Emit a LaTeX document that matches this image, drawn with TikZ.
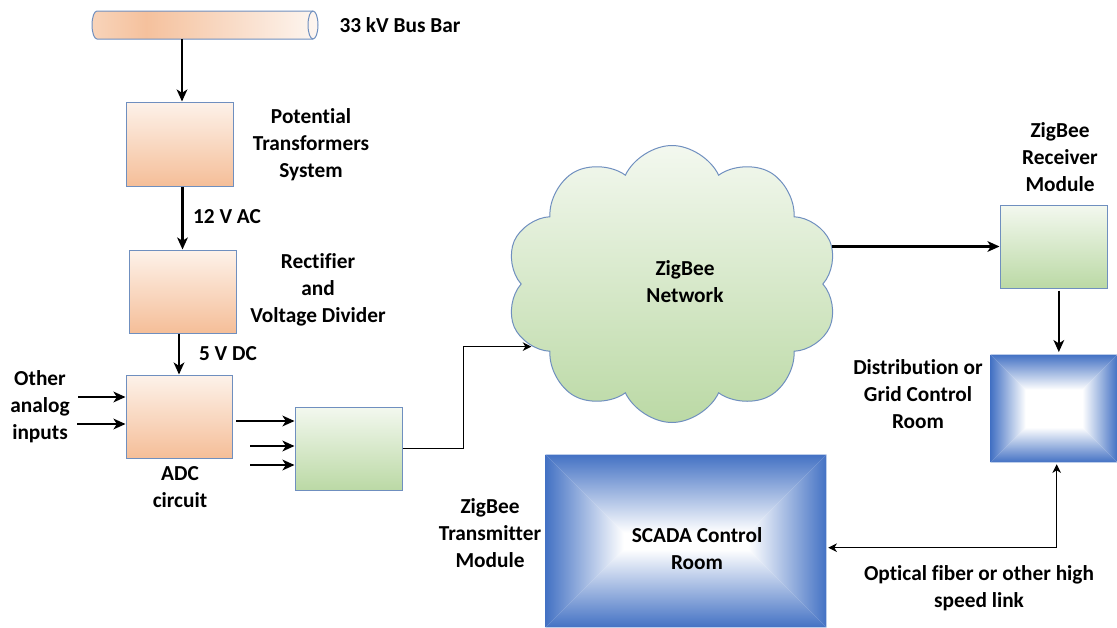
\documentclass[tikz,border=0pt]{standalone}
\usepackage{fontspec}
\setmainfont{Carlito}[Ligatures=NoCommon]
\usetikzlibrary{arrows.meta,calc,shapes.symbols}

\definecolor{edge}{HTML}{6F8FBF}
\definecolor{orgtop}{HTML}{FDF2EA}
\definecolor{orgbot}{HTML}{F5BE98}
\definecolor{grntop}{HTML}{F3F8EF}
\definecolor{grnbot}{HTML}{BBD9A5}
\definecolor{bev}{HTML}{4472C4}
\definecolor{busL}{HTML}{F8D4BA}
\definecolor{busM}{HTML}{F5C19D}
\definecolor{busR}{HTML}{FDF6F1}
\pgfdeclarehorizontalshading{busbar}{100bp}{color(0bp)=(busL); color(25bp)=(busL); color(37bp)=(busM); color(75bp)=(busR); color(100bp)=(busR)}

% blue bevelled room: four shaded trapezoids around a white core
\newcommand\bevelbox[2]{%
  \fill[white] (#1.north west) rectangle (#1.south east);
  \shade[top color=bev, bottom color=white]
    (#1.north west) -- (#1.north east) -- ($(#1.north east)+(-#2,#2)$) -- ($(#1.north west)+(#2,#2)$) -- cycle;
  \shade[top color=white, bottom color=bev]
    (#1.south west) -- (#1.south east) -- ($(#1.south east)+(-#2,-#2)$) -- ($(#1.south west)+(#2,-#2)$) -- cycle;
  \shade[left color=bev, right color=white]
    (#1.north west) -- (#1.south west) -- ($(#1.south west)+(#2,-#2)$) -- ($(#1.north west)+(#2,#2)$) -- cycle;
  \shade[left color=white, right color=bev]
    (#1.north east) -- (#1.south east) -- ($(#1.south east)+(-#2,-#2)$) -- ($(#1.north east)+(-#2,#2)$) -- cycle;
}

\begin{document}
\begin{tikzpicture}[x=0.75pt,y=-0.75pt,
  sz/.style n args={2}{minimum width=#1*0.75pt, minimum height=#2*0.75pt},
  obox/.style={rectangle, draw=edge, line width=0.75pt, top color=orgtop, bottom color=orgbot, inner sep=0pt},
  gbox/.style={rectangle, draw=edge, line width=0.75pt, top color=grntop, bottom color=grnbot, inner sep=0pt},
  room/.style={rectangle, inner sep=0pt},
  lbl/.style={align=center, inner sep=0pt, font=\bfseries\fontsize{16}{20.25}\selectfont},
  fatarrow/.style={line width=1.7pt, -{Stealth[length=9pt,width=8pt,inset=2.5pt]}},
  slimarrow/.style={line width=0.8pt, -{Stealth[length=6.5pt,width=6.5pt,inset=2pt]}},
  slimboth/.style={line width=0.8pt, {Stealth[length=6.5pt,width=6.5pt,inset=2pt]}-{Stealth[length=6.5pt,width=6.5pt,inset=2pt]}}]
\useasboundingbox (0,0) rectangle (1117,628);

% bus bar: horizontal cylinder with its end cap on the right
\node[rectangle, inner sep=0pt, sz={226}{28}] (bus) at (205,25) {};
\path[draw=edge, line width=0.75pt, shading=busbar]
  (97,11) -- (313,11) arc[start angle=90, end angle=-90, x radius=3.75pt, y radius=10.5pt]
  -- (97,39) arc[start angle=270, end angle=90, x radius=3.75pt, y radius=10.5pt] -- cycle;
\draw[edge, line width=0.75pt] (313,11) arc[start angle=90, end angle=270, x radius=3.75pt, y radius=10.5pt];
\node[lbl] (buslbl) at (400,25) {33 kV Bus Bar};

% measurement chain
\node[obox, sz={107}{84}] (pt) at (179.5,144) {};
\node[obox, sz={107}{83}] (rect) at (182.5,291.5) {};
\node[obox, sz={106}{83}] (adc) at (179,416.5) {};
\node[gbox, sz={107}{83}] (tx) at (348.5,448.5) {};
\node[gbox, sz={107}{83}] (rx) at (1053.5,246.5) {};

% network cloud
\node[cloud, cloud puffs=10, cloud puff arc=130, aspect=1.2, draw=edge, line width=0.75pt,
      top color=grntop, bottom color=grnbot, sz={332}{277}, inner sep=0pt] (net) at (672,284) {};

% control rooms
\node[room, sz={126}{107}] (dist) at (1054,408.5) {};
\node[room, sz={280}{172}] (scada) at (686,541) {};
\bevelbox{dist}{35}
\bevelbox{scada}{78}

% labels
\node[lbl] (ptlbl) at (311,145) {Potential\\Transformers\\System};
\node[lbl] (aclbl) at (227,217) {12 V AC};
\node[lbl] (rectlbl) at (318,290) {Rectifier\\and\\Voltage Divider};
\node[lbl] (dclbl) at (228,354) {5 V DC};
\node[lbl] (inlbl) at (40,407) {Other\\analog\\inputs};
\node[lbl] (adclbl) at (180,487) {ADC\\circuit};
\node[lbl] (txlbl) at (490,533) {ZigBee\\Transmitter\\Module};
\node[lbl] (netlbl) at (685,282) {ZigBee\\Network};
\node[lbl] (rxlbl) at (1060,157) {ZigBee\\Receiver\\Module};
\node[lbl] (distlbl) at (918,394) {Distribution or\\Grid Control\\Room};
\node[lbl] (scadalbl) at (697,549) {SCADA Control\\Room};
\node[lbl] (linklbl) at (979,588) {Optical fiber or other high\\speed link};

% connectors
\coordinate (busdrop) at (182,39);
\draw[fatarrow] (busdrop) -- (busdrop |- pt.north);
\draw[fatarrow] (rect.north |- pt.south) -- (rect.north);
\draw[fatarrow] (adc.north |- rect.south) -- (adc.north);

\coordinate (in1) at (78,397);
\coordinate (in2) at (77,424);
\draw[fatarrow] (in1) -- (in1 -| adc.west);
\draw[fatarrow] (in2) -- (in2 -| adc.west);

\coordinate (o1) at (236,421);
\coordinate (o2) at (250,446);
\coordinate (o3) at (250,465);
\draw[fatarrow] (o1) -- (o1 -| tx.west);
\draw[fatarrow] (o2) -- (o2 -| tx.west);
\draw[fatarrow] (o3) -- (o3 -| tx.west);

\draw[slimarrow] (tx.east) -- ++(61,0) |- (net.204);
\draw[fatarrow] (net.14 |- rx.west) -- (rx.west);

\coordinate (rxo) at ([xshift=4pt]rx.south);
\draw[fatarrow, shorten <=1.5pt, shorten >=2pt] (rxo) -- (rxo |- dist.north);

\coordinate (sce) at ([yshift=-5pt]scada.east);
\coordinate (dso) at ([xshift=2pt]dist.south);
\draw[slimboth, shorten <=1.5pt, shorten >=1.5pt] (sce) -| (dso);
\end{tikzpicture}
\end{document}
